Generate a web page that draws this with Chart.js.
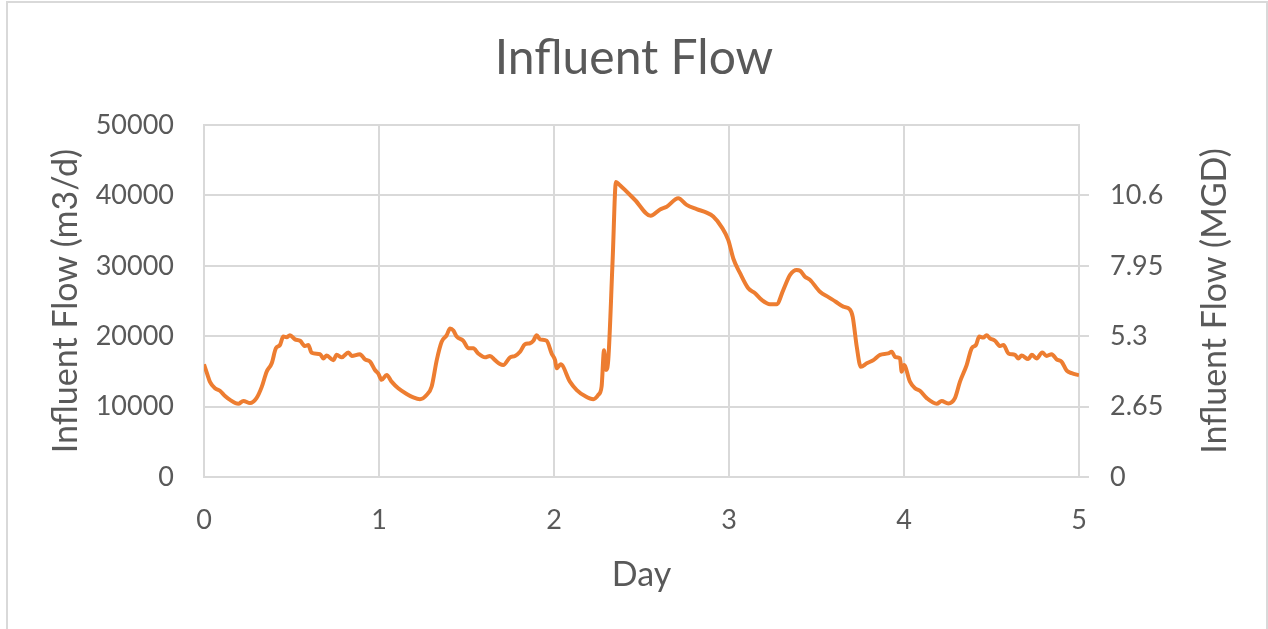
<!DOCTYPE html>
<html>
<head>
<meta charset="utf-8">
<title>Influent Flow</title>
<script src="https://cdn.jsdelivr.net/npm/chart.js@4.4.1/dist/chart.umd.min.js"></script>
<style>
  html, body { margin: 0; padding: 0; background: #fff; }
  #wrap { width: 1268px; height: 629px; }
</style>
</head>
<body>
<div id="wrap"><canvas id="flow" width="1268" height="629"></canvas></div>
<script>
// Influent flow over five days

var days = [
  0, 0.02, 0.034, 0.063, 0.091, 0.12, 0.149, 0.196, 0.225, 0.263,
  0.30, 0.33, 0.358, 0.387, 0.411, 0.434, 0.453, 0.472, 0.491, 0.52,
  0.549, 0.577, 0.596, 0.615, 0.663, 0.682, 0.701, 0.739, 0.758, 0.787,
  0.825, 0.844, 0.891, 0.92, 0.949, 0.977, 0.996, 1.015, 1.044, 1.072,
  1.11, 1.158, 1.196, 1.234, 1.272, 1.301, 1.33, 1.358, 1.387, 1.406,
  1.425, 1.444, 1.482, 1.51, 1.539, 1.567, 1.606, 1.634, 1.663, 1.691,
  1.71, 1.749, 1.777, 1.806, 1.834, 1.863, 1.882, 1.901, 1.92, 1.958,
  1.987, 2.006, 2.015, 2.038, 2.091, 2.13, 2.177, 2.225, 2.253, 2.272,
  2.286, 2.297, 2.31, 2.335, 2.354, 2.377, 2.463, 2.552, 2.606, 2.644,
  2.71, 2.758, 2.815, 2.872, 2.91, 2.958, 2.996, 3.025, 3.063, 3.11,
  3.149, 3.187, 3.234, 3.272, 3.31, 3.349, 3.387, 3.406, 3.434, 3.463,
  3.52, 3.568, 3.61, 3.653, 3.691, 3.707, 3.73, 3.753, 3.787, 3.825,
  3.863, 3.91, 3.93, 3.949, 3.977, 3.987, 4.0, 4.034, 4.063, 4.091,
  4.13, 4.187, 4.215, 4.253, 4.291, 4.32, 4.358, 4.387, 4.411, 4.43,
  4.453, 4.472, 4.491, 4.52, 4.549, 4.568, 4.597, 4.634, 4.653, 4.672,
  4.71, 4.73, 4.758, 4.79, 4.815, 4.844, 4.872, 4.9, 4.93, 4.958, 5.0
];

var flowM3d = [
  16000, 14500, 13500, 12600, 12250, 11500, 10950, 10400, 10800, 10500,
  11200, 12800, 14950, 16150, 18300, 18750, 19950, 19850, 20150, 19550,
  19350, 18600, 18750, 17650, 17450, 16850, 17250, 16600, 17350, 17000,
  17700, 17200, 17450, 16700, 16400, 15200, 14700, 13800, 14500, 13550,
  12600, 11800, 11300, 11050, 11650, 12850, 16600, 19200, 20150, 21100,
  20800, 19950, 19350, 18300, 18300, 17550, 17000, 17200, 16600, 16050,
  15900, 17000, 17200, 17800, 18850, 19000, 19350, 20150, 19550, 19350,
  17500, 16600, 15450, 16000, 13550, 12350, 11500, 11050, 11650, 12850,
  18000, 15200, 16600, 30800, 41900, 41450, 39350, 37100, 38000, 38400,
  39600, 38650, 38050, 37550, 37000, 35500, 33650, 31000, 28950, 26800,
  26100, 25150, 24550, 24550, 26550, 28700, 29400, 29300, 28450, 28000,
  26300, 25550, 24900, 24200, 23800, 22750, 18500, 15650, 16150, 16600,
  17350, 17550, 17800, 17050, 16850, 14950, 15900, 13550, 12600, 12250,
  11200, 10400, 10800, 10450, 11200, 13550, 15900, 18300, 18750, 19950,
  19800, 20150, 19700, 19350, 18600, 18750, 17550, 17350, 16850, 17250,
  16750, 17350, 16850, 17700, 17200, 17450, 16700, 16400, 15100, 14750, 14450
];

// right axis labels (MGD), same positions as the m3/d gridlines
var mgdTicks = [0, 2.65, 5.3, 7.95, 10.6];
var mgdMax = 13.25;

var textColor = '#595959';
var gridColor = '#d9d9d9';
var fontFamily = 'Lato, "Open Sans", sans-serif';

var points = days.map(function (d, i) { return { x: d, y: flowM3d[i] }; });

// white background, outer frame and the right-hand axis title
var chartDecor = {
  id: 'chartDecor',
  beforeDraw: function (chart) {
    var c = chart.ctx;
    c.save();
    c.fillStyle = '#fff';
    c.fillRect(0, 0, chart.width, chart.height);
    c.strokeStyle = gridColor;
    c.lineWidth = 2;
    c.strokeRect(7, 2, chart.width - 8, chart.height + 10);
    c.restore();
  },
  afterDraw: function (chart) {
    var c = chart.ctx;
    var area = chart.chartArea;
    c.save();
    c.translate(1215, (area.top + area.bottom) / 2);
    c.rotate(-Math.PI / 2);
    c.font = '34px ' + fontFamily;
    c.fillStyle = textColor;
    c.textAlign = 'center';
    c.textBaseline = 'middle';
    c.fillText('Influent Flow (MGD)', 0, 0);
    c.restore();
  }
};

var ctx = document.getElementById('flow').getContext('2d');
var chart = new Chart(ctx, {
    type: 'line',
    data: {
        datasets: [{
            label: 'Influent Flow',
            data: points,
            borderColor: '#ED7D31',
            backgroundColor: '#ED7D31',
            borderWidth: 4,
            pointRadius: 0,
            cubicInterpolationMode: 'monotone',
            yAxisID: 'y'
        }]
    },
    options: {
        responsive: false,
        animation: false,
        layout: { padding: 0 },
        plugins: {
            legend: { display: false },
            tooltip: { enabled: false },
            title: {
                display: true,
                text: 'Influent Flow',
                color: textColor,
                font: { family: fontFamily, size: 48, weight: 'normal' },
                padding: { top: 30, bottom: 37.4 }
            }
        },
        scales: {
            x: {
                type: 'linear',
                min: 0,
                max: 5,
                ticks: { stepSize: 1, color: textColor, padding: 27,
                         font: { family: fontFamily, size: 27 } },
                grid: { color: gridColor, lineWidth: 2, drawTicks: false },
                border: { color: gridColor, width: 2 },
                title: { display: true, text: 'Day', color: textColor,
                         font: { family: fontFamily, size: 34 },
                         padding: { top: 0, bottom: 34 } },
                afterFit: function (s) { s.height = 152; }
            },
            y: {
                position: 'left',
                min: 0,
                max: 50000,
                ticks: { stepSize: 10000, color: textColor, padding: 30,
                         font: { family: fontFamily, size: 27 },
                         callback: function (v) { return String(v); } },
                grid: { color: gridColor, lineWidth: 2, drawTicks: false },
                border: { color: gridColor, width: 2 },
                title: { display: true, text: 'Influent Flow (m3/d)', color: textColor,
                         font: { family: fontFamily, size: 34 },
                         padding: { top: 45.5, bottom: 0 } },
                afterFit: function (s) { s.width = 204; }
            },
            y2: {
                position: 'right',
                min: 0,
                max: mgdMax,
                afterBuildTicks: function (s) {
                    s.ticks = mgdTicks.map(function (v) { return { value: v }; });
                },
                ticks: { color: textColor, padding: 21,
                         font: { family: fontFamily, size: 27 },
                         callback: function (v) { return String(v); } },
                grid: { drawOnChartArea: false, color: gridColor, lineWidth: 2, tickLength: 10 },
                border: { color: gridColor, width: 2 },
                afterFit: function (s) { s.width = 189; }
            }
        }
    },
    plugins: [chartDecor]
});
</script>
</body>
</html>
